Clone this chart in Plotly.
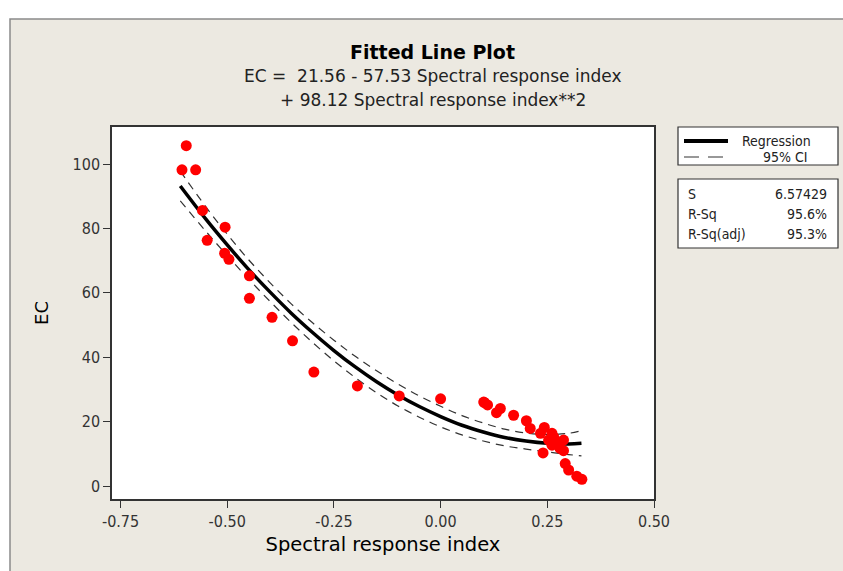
import plotly.graph_objects as go

# ---------------- data ----------------
spectral_index = [-0.596, -0.606, -0.574, -0.558, -0.505, -0.547, -0.506, -0.496,
                  -0.448, -0.448, -0.395, -0.347, -0.297, -0.195, -0.097, 0.000,
                  0.101, 0.103, 0.110, 0.140, 0.131, 0.171, 0.201, 0.210, 0.243,
                  0.234, 0.261, 0.253, 0.269, 0.288, 0.280, 0.240, 0.261, 0.288,
                  0.292, 0.300, 0.319, 0.331, 0.265, 0.276]
ec_values = [105.7, 98.2, 98.2, 85.6, 80.4, 76.3, 72.3, 70.4,
             65.3, 58.3, 52.4, 45.1, 35.4, 31.1, 28.0, 27.1,
             26.1, 25.9, 25.2, 24.1, 22.8, 22.0, 20.3, 17.9, 18.2,
             16.4, 16.4, 14.3, 13.8, 14.3, 11.7, 10.3, 12.7, 11.0,
             7.0, 5.0, 3.1, 2.1, 15.2, 13.0]

fit_x = [-0.61, -0.55, -0.50, -0.45, -0.40, -0.35, -0.30, -0.25, -0.20, -0.15,
         -0.10, -0.05, 0.00, 0.05, 0.10, 0.15, 0.20, 0.25, 0.30, 0.33]
fit_ec = [93.2, 82.9, 74.9, 67.3, 60.3, 53.7, 47.7, 42.1, 37.0, 32.4,
          28.3, 24.7, 21.6, 18.9, 16.8, 15.1, 14.0, 13.3, 13.1, 13.3]
ci_upper = [97.8, 86.7, 78.2, 70.3, 63.2, 56.6, 50.7, 45.3, 40.3, 35.8,
            31.7, 28.0, 24.8, 21.9, 19.6, 17.7, 16.5, 16.0, 16.4, 17.2]
ci_lower = [88.6, 79.1, 71.6, 64.3, 57.4, 50.8, 44.6, 38.9, 33.7, 29.0,
            24.9, 21.4, 18.4, 15.9, 14.0, 12.5, 11.5, 10.6, 9.8, 9.4]

x_ticks = [-0.75, -0.50, -0.25, 0.00, 0.25, 0.50]
x_tick_labels = ["-0.75", "-0.50", "-0.25", "0.00", "0.25", "0.50"]
y_ticks = [0, 20, 40, 60, 80, 100]

title = "Fitted Line Plot"
subtitle1 = "EC =  21.56 - 57.53 Spectral response index"
subtitle2 = "+ 98.12 Spectral response index**2"
stats_labels = ["S", "R-Sq", "R-Sq(adj)"]
stats_values = ["6.57429", "95.6%", "95.3%"]

# ---------------- layout geometry (pixels) ----------------
W, H = 843, 571
L, R, T, B = 112, 654, 127, 499
PW, PH = R - L, B - T


def px(X):
    return (X - L) / PW


def py(Y):
    return (B - Y) / PH


BG = "#ECE9E1"
FONT = "DejaVu Sans Condensed"
WIDE = "DejaVu Sans"

fig = go.Figure()
dash_line = dict(color="#333333", width=1.2, dash="8px,6px")
fig.add_trace(go.Scatter(x=fit_x, y=ci_upper, mode="lines", line_shape="spline",
                         line=dash_line, hoverinfo="skip"))
fig.add_trace(go.Scatter(x=fit_x, y=ci_lower, mode="lines", line_shape="spline",
                         line=dash_line, hoverinfo="skip"))
fig.add_trace(go.Scatter(x=fit_x, y=fit_ec, mode="lines", line_shape="spline",
                         line=dict(color="black", width=3.5)))
fig.add_trace(go.Scatter(x=spectral_index, y=ec_values, mode="markers",
                         marker=dict(color="#FF0000", size=11, line=dict(width=0))))

shapes = [
    # outer frame
    dict(type="rect", xref="paper", yref="paper", layer="below",
         x0=px(10), y0=py(19), x1=px(W + 10), y1=py(H + 10),
         fillcolor=BG, line=dict(color="#8a8a8a", width=1.5)),
    # plot area
    dict(type="rect", xref="paper", yref="paper", layer="below",
         x0=0, y0=0, x1=1, y1=1, fillcolor="white", line=dict(width=0)),
    # legend boxes
    dict(type="rect", xref="paper", yref="paper",
         x0=px(678), y0=py(127), x1=px(838), y1=py(165),
         fillcolor="white", line=dict(color="#333333", width=1.2), layer="below"),
    dict(type="rect", xref="paper", yref="paper",
         x0=px(678), y0=py(179), x1=px(838), y1=py(248),
         fillcolor="white", line=dict(color="#333333", width=1.2), layer="below"),
    # legend line samples
    dict(type="line", xref="paper", yref="paper",
         x0=px(684), y0=py(141), x1=px(728), y1=py(141),
         line=dict(color="black", width=4)),
    dict(type="line", xref="paper", yref="paper",
         x0=px(684), y0=py(157), x1=px(728), y1=py(157),
         line=dict(color="#333333", width=1.2, dash="15px,9px")),
]

annotations = [
    dict(text="<b>" + title + "</b>", x=px(432), y=py(52), xref="paper", yref="paper",
         showarrow=False, font=dict(family=WIDE, size=19, color="black"),
         xanchor="center", yanchor="middle"),
    dict(text=subtitle1, x=px(432), y=py(76), xref="paper", yref="paper",
         showarrow=False, font=dict(family=WIDE, size=17, color="#222222"),
         xanchor="center", yanchor="middle"),
    dict(text=subtitle2, x=px(433), y=py(100), xref="paper", yref="paper",
         showarrow=False, font=dict(family=WIDE, size=17, color="#222222"),
         xanchor="center", yanchor="middle"),
    dict(text="Regression", x=px(740), y=py(141), xref="paper", yref="paper",
         showarrow=False, font=dict(family=FONT, size=14, color="#222222"),
         xanchor="left", yanchor="middle"),
    dict(text="95% CI", x=px(810), y=py(157), xref="paper", yref="paper",
         showarrow=False, font=dict(family=FONT, size=14, color="#222222"),
         xanchor="right", yanchor="middle"),
]
row_y = [194, 214, 234]
for lab, val, yy in zip(stats_labels, stats_values, row_y):
    annotations.append(dict(text=lab, x=px(686), y=py(yy), xref="paper", yref="paper",
                            showarrow=False, font=dict(family=FONT, size=14, color="#222222"),
                            xanchor="left", yanchor="middle"))
    annotations.append(dict(text=val, x=px(829), y=py(yy), xref="paper", yref="paper",
                            showarrow=False, font=dict(family=FONT, size=14, color="#222222"),
                            xanchor="right", yanchor="middle"))

fig.update_layout(
    width=W, height=H,
    margin=dict(l=L, r=W - R, t=T, b=H - B, pad=0),
    paper_bgcolor="white", plot_bgcolor="white",
    showlegend=False,
    shapes=shapes, annotations=annotations,
    font=dict(family=FONT),
    xaxis=dict(range=[-0.77, 0.5], tickvals=x_ticks, ticktext=x_tick_labels,
               showgrid=False, zeroline=False, showline=True, mirror=True,
               linecolor="#333333", linewidth=1.5, ticks="outside", ticklen=7,
               tickcolor="#333333", tickwidth=1,
               tickfont=dict(family=FONT, size=16, color="#333333"),
               title=dict(text="Spectral response index", standoff=7,
                          font=dict(family=WIDE, size=19.5, color="black"))),
    yaxis=dict(range=[-4.0, 111.5], tickvals=y_ticks,
               showgrid=False, zeroline=False, showline=True, mirror=True,
               linecolor="#333333", linewidth=1.5, ticks="outside", ticklen=7,
               tickcolor="#333333", tickwidth=1,
               tickfont=dict(family=FONT, size=16, color="#333333"),
               title=dict(text="EC", standoff=19,
                          font=dict(family=WIDE, size=18, color="black"))),
)

fig.write_html("out.html")
